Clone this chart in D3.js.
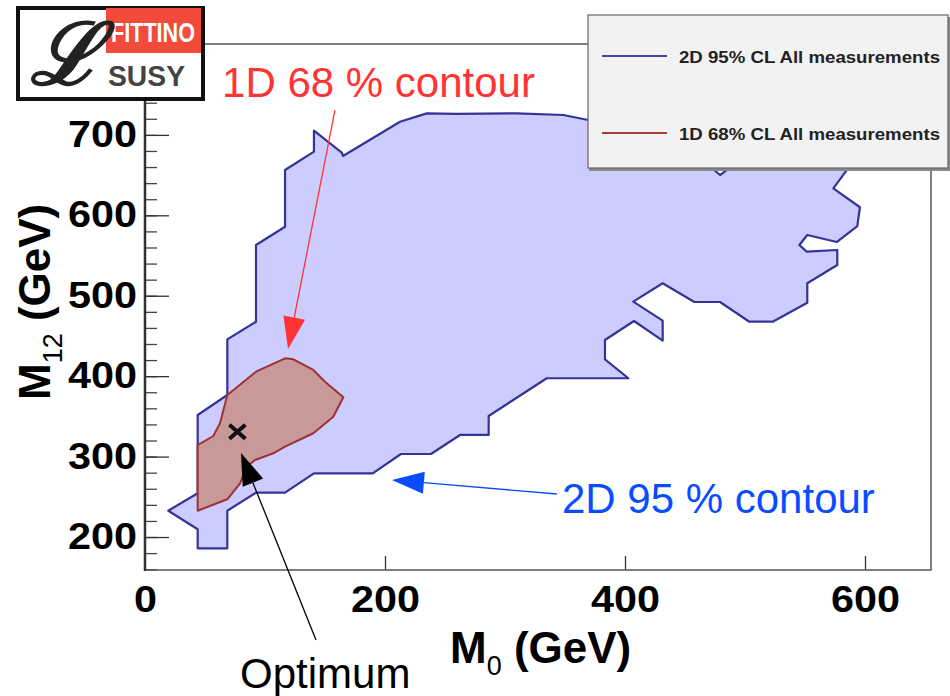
<!DOCTYPE html>
<html>
<head>
<meta charset="utf-8">
<script src="https://d3js.org/d3.v7.min.js"></script>
<style>
  body { margin: 0; background: #fff; }
  svg { display: block; font-family: "Liberation Sans", Arial, sans-serif; }
</style>
</head>
<body>
<div id="chart"></div>
<script>
// 2D 95% CL contour (M0, M12 in GeV)
const m0_95 = [19.4, 43.9, 43.9, 68.6, 68.6, 92.5, 92.5, 116.7, 116.7, 140.8, 140.8, 164.2, 165, 212.5, 234.8, 259.8, 309.8, 348.6, 369.4,
  395.8, 429.2, 462.5, 479.2, 495.8, 529.2, 562.5, 584.8, 573.6, 595.8, 593.6, 576.4, 551.9, 545.3, 551.4, 576.9, 576.9, 551.9, 551.9,
  523.1, 503.6, 479.2, 457.8, 431.4, 406.9, 431.4, 431.4, 407.5, 383.3, 383.3, 402.8, 334.8, 286.4, 286.4, 262.5, 238.3, 213.3, 189.8,
  140.8, 116.7, 92.5, 68.6, 68.6, 43.9, 43.9];
const m12_95 = [232.7, 254.4, 351.7, 376.6, 445.8, 467.7, 563.1, 585.8, 656.3, 679.1, 705.2, 677.5, 673.8, 716.4, 726.8, 726, 726.8, 724.7, 718.5,
  706.1, 687.4, 671.3, 650.1, 668.8, 693.6, 693.6, 656.3, 633.6, 610, 586.7, 566.8, 575.5, 563.1, 554.8, 556.9, 538.2, 515.5, 491.3,
  467.7, 467.7, 492.2, 492.2, 515.5, 492.6, 469, 444.1, 468.6, 445, 421, 397.4, 397.4, 350.5, 326.9, 326.9, 303.2, 303.2, 279.2,
  279.2, 255.1, 255.1, 232.7, 186, 186, 209.6];

// 1D 68% CL contour
const m0_68 = [43.9, 43.9, 56.9, 62.5, 68.6, 92.5, 116.7, 123.6, 140.3, 150, 165.3, 156.9, 140.3, 116.7, 106.9, 91.7, 84.8, 79.2, 68.6];
const m12_68 = [232.7, 314.4, 325.6, 341.4, 376.6, 405.6, 422.2, 421, 407.7, 393.1, 373.7, 349.6, 329, 312.3, 304.1, 295.8, 287.4, 266.8, 246.9];

// best fit point
const optimum = [77, 331];

const xTicks = [0, 200, 400, 600];
const yTicks = [200, 300, 400, 500, 600, 700];
const legendLabels = ["2D 95% CL All measurements", "1D 68% CL All measurements"];

// annotations: text + arrow from tail to tip (data coordinates)
const notes = [
  { text: "1D 68 % contour", color: "#ff3333", at: [64.2, 747.1], tail: [158.3, 730.9], tip: [119.2, 433.8] },
  { text: "2D 95 % contour", color: "#0a4cff", at: [347.5, 229.9], tail: [343.3, 253.5], tip: [205.8, 270.9] },
  { text: "Optimum", color: "#000", at: [79.2, 12.3], tail: [142.5, 72], tip: [80, 304.5] }
];

const width = 950, height = 696;
const x = d3.scaleLinear().domain([0, 655]).range([145, 931]);
const y = d3.scaleLinear().domain([159, 813]).range([570, 44]);

const svg = d3.select("#chart").append("svg")
  .attr("width", width)
  .attr("height", height);

// contours
const line = d3.line().x(d => x(d[0])).y(d => y(d[1]));
svg.append("path")
  .attr("d", line(d3.zip(m0_95, m12_95)) + "Z")
  .attr("fill", "#ccccff")
  .attr("stroke", "#343497")
  .attr("stroke-width", 2.2)
  .attr("stroke-linejoin", "round");
svg.append("path")
  .attr("d", line(d3.zip(m0_68, m12_68)) + "Z")
  .attr("fill", "#c99999")
  .attr("stroke", "#9b3333")
  .attr("stroke-width", 2)
  .attr("stroke-linejoin", "round");

// optimum cross
const ox = x(optimum[0]), oy = y(optimum[1]);
svg.append("path")
  .attr("d", `M${ox - 8},${oy - 7}L${ox + 8},${oy + 7}M${ox - 8},${oy + 7}L${ox + 8},${oy - 7}`)
  .attr("stroke", "#111")
  .attr("stroke-width", 4);

// axes
const xAxis = d3.axisBottom(x).tickValues(xTicks).tickSizeInner(-14).tickSizeOuter(0).tickPadding(16);
const gx = svg.append("g").attr("transform", "translate(0,570)").call(xAxis);
gx.select(".domain").remove();
gx.selectAll(".tick").filter(d => d === 0).select("line").remove();
gx.selectAll("line").attr("stroke", "#333").attr("stroke-width", 1.3);
gx.selectAll("text")
  .attr("fill", "#000")
  .style("font-size", "36px")
  .style("font-weight", "bold")
  .attr("textLength", d => String(d).length * 23)
  .attr("lengthAdjust", "spacingAndGlyphs");

const yMinor = d3.axisLeft(y).tickValues(d3.range(160, 813, 20)).tickSizeInner(-12).tickSizeOuter(0).tickFormat("");
const gym = svg.append("g").attr("transform", "translate(145,0)").call(yMinor);
gym.select(".domain").remove();
gym.selectAll("line").attr("stroke", "#444").attr("stroke-width", 1.3);

const yAxis = d3.axisLeft(y).tickValues(yTicks).tickSizeInner(-24).tickSizeOuter(0).tickPadding(8);
const gy = svg.append("g").attr("transform", "translate(145,0)").call(yAxis);
gy.select(".domain").remove();
gy.selectAll("line").attr("stroke", "#333").attr("stroke-width", 1.3);
gy.selectAll("text")
  .attr("fill", "#000")
  .style("font-size", "36px")
  .style("font-weight", "bold")
  .attr("textLength", d => String(d).length * 23)
  .attr("lengthAdjust", "spacingAndGlyphs");

// frame
svg.append("rect")
  .attr("x", 145).attr("y", 44)
  .attr("width", 931 - 145).attr("height", 570 - 44)
  .attr("fill", "none")
  .attr("stroke", "#555")
  .attr("stroke-width", 1.5);
svg.append("line")
  .attr("x1", 145).attr("x2", 145).attr("y1", 44).attr("y2", 571)
  .attr("stroke", "#333").attr("stroke-width", 2.5);

// axis titles
const xt = svg.append("text")
  .attr("x", 450).attr("y", 663)
  .style("font-size", "44px").style("font-weight", "bold");
xt.append("tspan").text("M");
xt.append("tspan").attr("dy", 12).style("font-size", "27px").style("font-weight", "normal").text("0");
xt.append("tspan").attr("dy", -12).text(" (GeV)");

const yt = svg.append("text")
  .attr("transform", "translate(50,400) rotate(-90)")
  .style("font-size", "44px").style("font-weight", "bold");
yt.append("tspan").text("M");
yt.append("tspan").attr("dy", 12).style("font-size", "27px").style("font-weight", "normal").text("12");
yt.append("tspan").attr("dy", -12).text(" (GeV)");

// annotations
function arrow(tail, tip, color, headLen, headW, sw) {
  const [x0, y0] = [x(tail[0]), y(tail[1])];
  const [x1, y1] = [x(tip[0]), y(tip[1])];
  const a = Math.atan2(y1 - y0, x1 - x0);
  const bx = x1 - headLen * Math.cos(a), by = y1 - headLen * Math.sin(a);
  const nx = -Math.sin(a) * headW / 2, ny = Math.cos(a) * headW / 2;
  svg.append("line")
    .attr("x1", x0).attr("y1", y0).attr("x2", bx).attr("y2", by)
    .attr("stroke", color).attr("stroke-width", sw);
  svg.append("path")
    .attr("d", `M${x1},${y1}L${bx + nx},${by + ny}L${bx - nx},${by - ny}Z`)
    .attr("fill", color);
}
notes.forEach(n => {
  arrow(n.tail, n.tip, n.color, 32, 22, 1.3);
  svg.append("text")
    .attr("x", x(n.at[0])).attr("y", y(n.at[1]))
    .attr("fill", n.color)
    .style("font-size", "42px")
    .text(n.text);
});

// legend
const lg = svg.append("g");
lg.append("rect")
  .attr("x", 589).attr("y", 17).attr("width", 362).attr("height", 154)
  .attr("fill", "#888");
lg.append("rect")
  .attr("x", 588).attr("y", 15).attr("width", 360).attr("height", 153)
  .attr("fill", "#f2f2f2").attr("stroke", "#666").attr("stroke-width", 1.2);
const legendColors = ["#4545a8", "#a83a3a"];
legendLabels.forEach((lab, i) => {
  const ly = 56 + i * 77;
  lg.append("line")
    .attr("x1", 602).attr("x2", 667).attr("y1", ly).attr("y2", ly)
    .attr("stroke", legendColors[i]).attr("stroke-width", 2);
  lg.append("text")
    .attr("x", 679).attr("y", ly + 7)
    .attr("fill", "#222")
    .style("font-size", "17px").style("font-weight", "bold")
    .attr("textLength", 261).attr("lengthAdjust", "spacingAndGlyphs")
    .text(lab);
});

// logo
const logo = svg.append("g");
logo.append("rect")
  .attr("x", 18).attr("y", 8).attr("width", 185).attr("height", 91)
  .attr("fill", "#fff").attr("stroke", "#111").attr("stroke-width", 4);
logo.append("rect")
  .attr("x", 106).attr("y", 8).attr("width", 95).attr("height", 45)
  .attr("fill", "#f24b3b");
logo.append("text")
  .attr("x", 111).attr("y", 42)
  .attr("fill", "#fff")
  .style("font-size", "27px").style("font-weight", "bold")
  .attr("textLength", 84).attr("lengthAdjust", "spacingAndGlyphs")
  .text("FITTINO");
logo.append("text")
  .attr("x", 108).attr("y", 86)
  .attr("fill", "#444")
  .style("font-size", "29px").style("font-weight", "bold")
  .attr("textLength", 77).attr("lengthAdjust", "spacingAndGlyphs")
  .text("SUSY");
logo.append("text")
  .attr("x", 30).attr("y", 84)
  .attr("fill", "#222")
  .style("font-family", "'DejaVu Serif', serif")
  .style("font-size", "86px")
  .style("font-style", "italic")
  .style("font-weight", "bold")
  .text("ℒ");
</script>
</body>
</html>
